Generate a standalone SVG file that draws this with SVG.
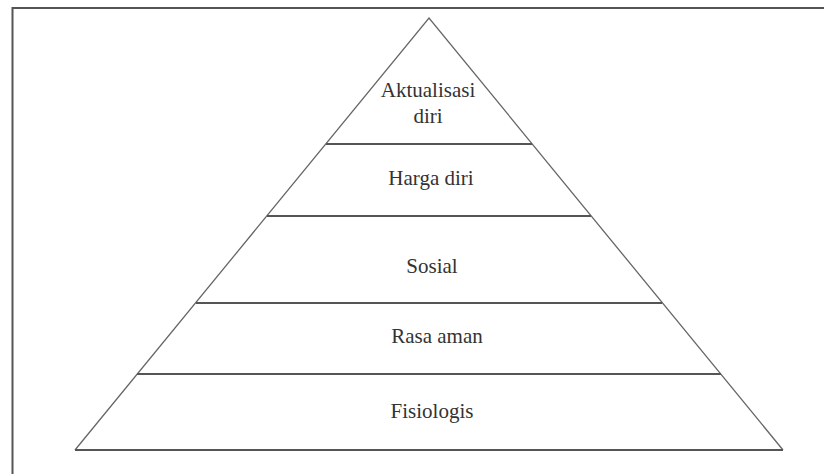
<svg xmlns="http://www.w3.org/2000/svg" width="824" height="474" viewBox="0 0 824 474">
<style>
.frame{fill:none;stroke:#555;stroke-width:2}
.side{fill:none;stroke:#666;stroke-width:1.3}
.div{stroke:#555;stroke-width:2}
.lbl{font-family:"Liberation Serif","Times New Roman",serif;font-size:21px;fill:#333;text-anchor:middle}
</style>
<rect width="824" height="474" fill="#fff"/>
<path class="frame" d="M12.5 474 V8 H824"/>
<g id="connectors">
<polyline class="side" points="75,450 429,18 783,450"/>
<line class="div" x1="75" y1="450" x2="783" y2="450"/>
<line class="div" x1="326" y1="144" x2="532" y2="144"/>
<line class="div" x1="267" y1="216" x2="591" y2="216"/>
<line class="div" x1="196" y1="303" x2="662" y2="303"/>
<line class="div" x1="137" y1="374" x2="721" y2="374"/>
</g>
<g id="aktualisasi"><text class="lbl" x="428" y="97">Aktualisasi</text><text class="lbl" x="428" y="123">diri</text></g>
<g id="harga-diri"><text class="lbl" x="431" y="185">Harga diri</text></g>
<g id="sosial"><text class="lbl" x="432" y="273">Sosial</text></g>
<g id="rasa-aman"><text class="lbl" x="437" y="343">Rasa aman</text></g>
<g id="fisiologis"><text class="lbl" x="432" y="418">Fisiologis</text></g>
</svg>
